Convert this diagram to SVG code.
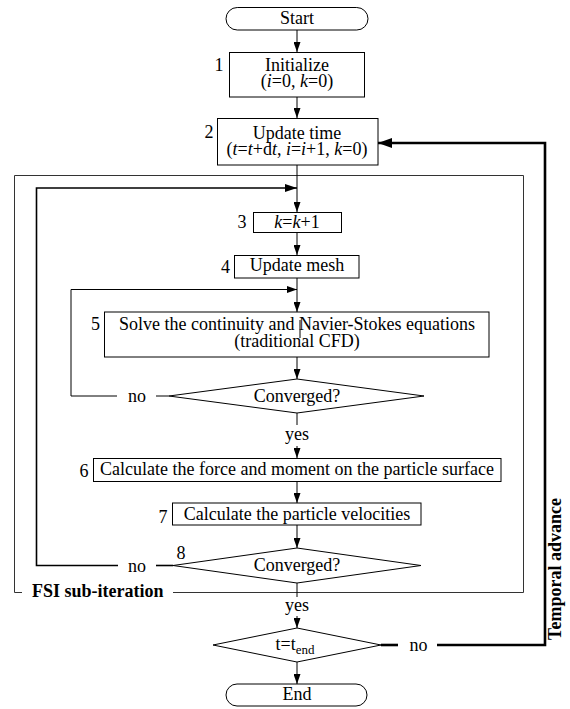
<svg xmlns="http://www.w3.org/2000/svg" width="570" height="709" viewBox="0 0 570 709">
<defs>
<style>
text{font-family:"Liberation Serif","Times New Roman",serif;font-size:18px;fill:#000}
.c{text-anchor:middle}
.b{font-weight:bold}
.box{fill:#fff;stroke:#000;stroke-width:1}
.ln{fill:none;stroke:#000;stroke-width:1}
.mid{fill:none;stroke:#000;stroke-width:1.6}
.thick{fill:none;stroke:#000;stroke-width:2.6}
.frame{fill:none;stroke:#333;stroke-width:1}
</style>
<marker id="arr" markerUnits="userSpaceOnUse" markerWidth="10" markerHeight="7" refX="10" refY="3.5" orient="auto"><path d="M0,0 L10,3.5 L0,7 z" fill="#000"/></marker>
<marker id="arrm" markerUnits="userSpaceOnUse" markerWidth="12" markerHeight="8" refX="12" refY="4" orient="auto"><path d="M0,0 L12,4 L0,8 z" fill="#000"/></marker>
<marker id="arrb" markerUnits="userSpaceOnUse" markerWidth="14" markerHeight="10" refX="14" refY="5" orient="auto"><path d="M0,0 L14,5 L0,10 z" fill="#000"/></marker>
</defs>
<rect width="570" height="709" fill="#fff"/>

<g id="fsi-frame">
<path class="frame" d="M22,592.5 H14.5 V175.5 H523.5 V592.5 H173"/>
<text class="b" x="32" y="597">FSI sub-iteration</text>
</g>

<g id="connectors">
<path class="ln" d="M297,30 V52" marker-end="url(#arr)"/>
<path class="ln" d="M297,97 V118" marker-end="url(#arr)"/>
<path class="ln" d="M297,165 V212" marker-end="url(#arr)"/>
<path class="ln" d="M297,232 V255" marker-end="url(#arr)"/>
<path class="ln" d="M297,278 V312" marker-end="url(#arr)"/>
<path class="ln" d="M297,357 V379" marker-end="url(#arr)"/>
<path class="ln" d="M297,413 V425"/>
<path class="ln" d="M297,446 V458" marker-end="url(#arr)"/>
<path class="ln" d="M297,481.5 V503" marker-end="url(#arr)"/>
<path class="ln" d="M297,525 V548" marker-end="url(#arr)"/>
<path class="ln" d="M297,583 V597"/>
<path class="ln" d="M297,616 V628" marker-end="url(#arr)"/>
<path class="ln" d="M297,662 V684" marker-end="url(#arr)"/>
<path class="ln" d="M169,396 H156"/>
<path class="ln" d="M117,396 H71 V289.5 H297" marker-end="url(#arr)"/>
<text x="137" y="402" class="c">no</text>
<path class="mid" d="M173,565.5 H156"/>
<path class="mid" d="M118,565.5 H36.5 V188 H297" marker-end="url(#arrm)"/>
<text x="137" y="571.5" class="c">no</text>
<text x="297" y="440" class="c">yes</text>
<text x="297" y="611" class="c">yes</text>
<path class="thick" d="M381,645 H398"/>
<path class="thick" d="M437,645 H545 V143 H378" marker-end="url(#arrb)"/>
<text x="418.5" y="651" class="c">no</text>
<text class="b c" transform="translate(561,569) rotate(-90)">Temporal advance</text>
</g>

<g id="start">
<rect class="box" x="226" y="7.5" width="142" height="22.5" rx="11.25"/>
<text x="297" y="24" class="c">Start</text>
</g>

<g id="n1">
<rect class="box" x="229.5" y="52.5" width="135" height="44.5"/>
<text x="297" y="71" class="c">Initialize</text>
<text x="297" y="87" class="c">(<tspan font-style="italic">i</tspan>=0, <tspan font-style="italic">k</tspan>=0)</text>
<text x="219" y="71" class="c">1</text>
</g>

<g id="n2">
<rect class="box" x="217.5" y="118.5" width="160.5" height="46.5"/>
<text x="297" y="139" class="c">Update time</text>
<text x="297" y="155" class="c">(<tspan font-style="italic">t</tspan>=<tspan font-style="italic">t</tspan>+d<tspan font-style="italic">t</tspan>, <tspan font-style="italic">i</tspan>=<tspan font-style="italic">i</tspan>+1, <tspan font-style="italic">k</tspan>=0)</text>
<text x="209" y="138" class="c">2</text>
</g>

<g id="n3">
<rect class="box" x="253.5" y="212.5" width="88" height="20"/>
<text x="297" y="227.5" class="c"><tspan font-style="italic">k</tspan>=<tspan font-style="italic">k</tspan>+1</text>
<text x="242" y="228" class="c">3</text>
</g>

<g id="n4">
<rect class="box" x="234.5" y="255.5" width="124.5" height="22.5"/>
<text x="297" y="270.5" class="c">Update mesh</text>
<text x="225.5" y="273" class="c">4</text>
</g>

<g id="n5">
<rect class="box" x="104.5" y="312" width="384.5" height="45"/>
<text x="297" y="330" class="c">Solve the continuity and Navier-Stokes equations</text>
<text x="297" y="346.5" class="c">(traditional CFD)</text>
<line class="ln" x1="300" y1="320" x2="300" y2="338"/>
<text x="95.5" y="330" class="c">5</text>
</g>

<g id="d1">
<polygon class="box" points="297,379 424,396 297,413 169,396"/>
<text x="297" y="402" class="c">Converged?</text>
</g>

<g id="n6">
<rect class="box" x="93.5" y="458.5" width="407.5" height="23"/>
<text x="297" y="475" class="c">Calculate the force and moment on the particle surface</text>
<text x="84" y="477" class="c">6</text>
</g>

<g id="n7">
<rect class="box" x="172.5" y="503" width="248.5" height="22"/>
<text x="297" y="520" class="c">Calculate the particle velocities</text>
<text x="163" y="523" class="c">7</text>
</g>

<g id="d8">
<polygon class="box" points="297,548 421,565.5 297,583 173,565.5"/>
<text x="297" y="571" class="c">Converged?</text>
<text x="181" y="559" class="c">8</text>
</g>

<g id="dt">
<polygon class="box" points="297,628 381,645 297,662 213,645"/>
<text x="295" y="649.5" class="c">t=t<tspan font-size="13" dy="4">end</tspan></text>
</g>

<g id="end">
<rect class="box" x="226" y="684" width="141" height="22" rx="11"/>
<text x="297" y="700" class="c">End</text>
</g>
</svg>
